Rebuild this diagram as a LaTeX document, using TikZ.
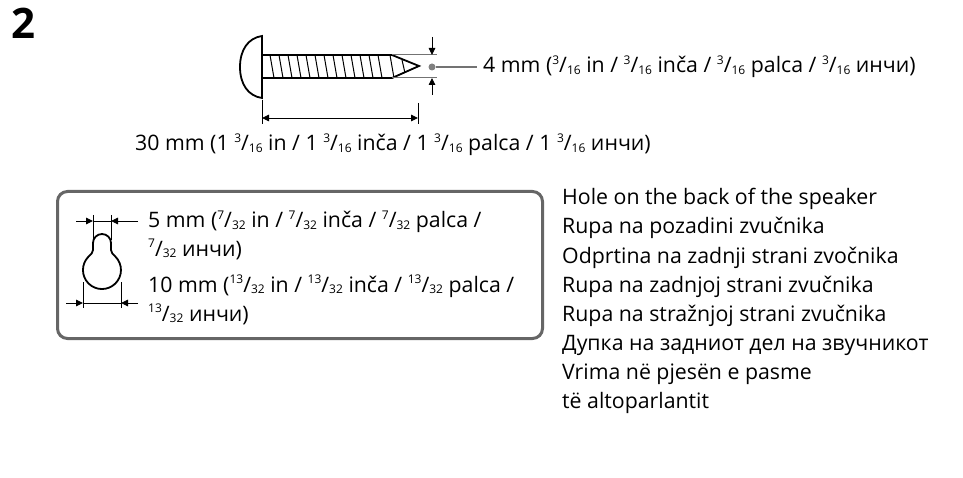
\documentclass[tikz,border=0pt]{standalone}
\usepackage{fontspec}
\setmainfont{Open Sans}
\usetikzlibrary{arrows.meta}
\newcommand{\fr}[2]{\raisebox{0.42em}{\fontsize{12}{12}\selectfont #1}/\raisebox{-0.08em}{\fontsize{12}{12}\selectfont #2}}
\tikzset{
 lbl/.style={anchor=base west,inner sep=0pt,font=\fontsize{21.3}{24}\selectfont,text=black},
 ink/.style={draw=black,line width=1.8pt},
 thin dim/.style={draw=black,line width=0.9pt},
 guide/.style={draw=black!55,line width=1pt},
 tip/.style={-{Triangle[length=7pt,width=6.5pt]}},
 bothtip/.style={{Triangle[length=7pt,width=6.5pt]}-{Triangle[length=7pt,width=6.5pt]}}
}
\begin{document}
\begin{tikzpicture}[x=1pt,y=-1pt]
\useasboundingbox (0,0) rectangle (963,478);
\node[anchor=base west,inner sep=0pt,font=\fontsize{42}{44}\selectfont\bfseries] (num) at (11,39) {2};
% screw
\draw[ink] (262,36) .. controls (248,38) and (240,50) .. (240,67) .. controls (240,84) and (248,96) .. (262,98) -- cycle;
\draw[ink] (262,55) -- (392,55) -- (419,66) -- (392,78) -- (262,78);
\foreach \x in {270,279,...,378}{\draw[line width=1pt] (\x,55) -- (\x+4,78);}
\draw[line width=1pt] (402,60) -- (405,73);
\draw[line width=1pt] (390,55) -- (394,78);
\coordinate (gt) at (437,55); \coordinate (gb) at (437,78);
\draw[guide] (392,55) -- (gt);
\draw[guide] (392,78) -- (gb);
\coordinate (a1) at (432,37); \coordinate (a2) at (432,55);
\coordinate (a3) at (432,95); \coordinate (a4) at (432,78);
\draw[thin dim,tip] (a1) -- (a2);
\draw[thin dim,tip] (a3) -- (a4);
\node[circle,fill=black!50,inner sep=0pt,minimum size=7pt] (dot) at (432,67) {};
\coordinate (dotend) at (477,67);
\draw[draw=black!55,line width=1.5pt] (dot) -- (dotend);
\draw[thin dim] (262,100) -- (262,124);
\draw[thin dim] (418,103) -- (418,124);
\coordinate (l1) at (262,118); \coordinate (l2) at (418,118);
\draw[thin dim,bothtip] (l1) -- (l2);
\node[lbl] (t4) at (483,73) {4 mm (\fr{3}{16} in / \fr{3}{16} inča / \fr{3}{16} palca / \fr{3}{16} инчи)};
\node[lbl] (t30) at (135,151) {30 mm (1 \fr{3}{16} in / 1 \fr{3}{16} inča / 1 \fr{3}{16} palca / 1 \fr{3}{16} инчи)};
% box
\node[draw=black!60,line width=3pt,rounded corners=10pt,minimum width=485pt,minimum height=147pt,anchor=north west,inner sep=0pt] (box) at (56,190) {};
% keyhole
\draw[line width=1.8pt] (93,243) arc[start angle=180,end angle=360,radius=9] -- (111,250)
  .. controls (111,253) and (113,254) .. (115.4,256.6) arc[start angle=-45,end angle=225,radius=19]
  .. controls (91,254) and (93,253) .. (93,250) -- cycle;
\draw[thin dim] (93,215) -- (93,240);
\draw[thin dim] (111,215) -- (111,240);
\coordinate (k1) at (76,221); \coordinate (k2) at (93,221);
\coordinate (k3) at (138,221); \coordinate (k4) at (111,221);
\draw[thin dim,tip] (k1) -- (k2);
\draw[thin dim,tip] (k3) -- (k4);
\draw[thin dim] (93,221) -- (111,221);
\draw[thin dim] (83,282) -- (83,308);
\draw[thin dim] (121,282) -- (121,308);
\coordinate (m1) at (66,303); \coordinate (m2) at (83,303);
\coordinate (m3) at (138,303); \coordinate (m4) at (121,303);
\draw[thin dim,tip] (m1) -- (m2);
\draw[thin dim,tip] (m3) -- (m4);
\draw[thin dim] (83,303) -- (121,303);
\node[lbl] (b1) at (148,228) {5 mm (\fr{7}{32} in / \fr{7}{32} inča / \fr{7}{32} palca /};
\node[lbl] (b2) at (148,256) {\fr{7}{32} инчи)};
\node[lbl] (b3) at (148,292) {10 mm (\fr{13}{32} in / \fr{13}{32} inča / \fr{13}{32} palca /};
\node[lbl] (b4) at (148,321) {\fr{13}{32} инчи)};
% right column
\node[lbl] (r1) at (562,205) {Hole on the back of the speaker};
\node[lbl] (r2) at (562,234) {Rupa na pozadini zvučnika};
\node[lbl] (r3) at (562,263) {Odprtina na zadnji strani zvočnika};
\node[lbl] (r4) at (562,292) {Rupa na zadnjoj strani zvučnika};
\node[lbl] (r5) at (562,321) {Rupa na stražnjoj strani zvučnika};
\node[lbl] (r6) at (562,350) {Дупка на задниот дел на звучникот};
\node[lbl] (r7) at (562,379) {Vrima në pjesën e pasme};
\node[lbl] (r8) at (562,408) {të altoparlantit};
\end{tikzpicture}
\end{document}
